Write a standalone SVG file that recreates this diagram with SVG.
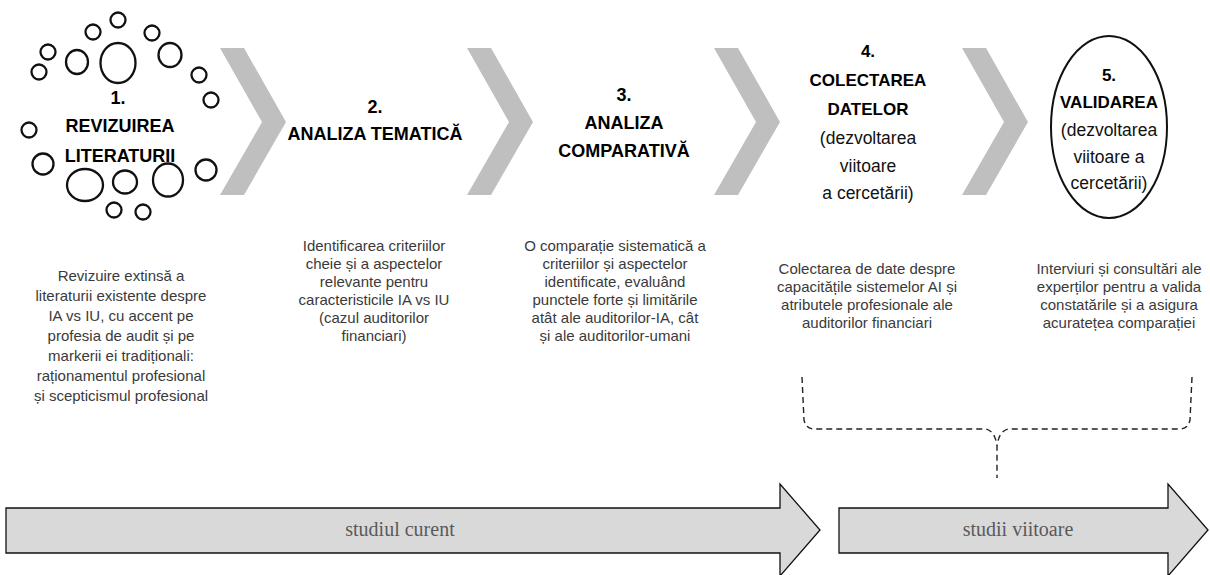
<svg xmlns="http://www.w3.org/2000/svg" width="1210" height="575" viewBox="0 0 1210 575">
<style>
.chev{fill:#bfbfbf;stroke:none}
.ring{fill:#fff;stroke:#111;stroke-width:2.3}
.t{font-family:"Liberation Sans",Arial,sans-serif;font-size:18px;font-weight:bold;fill:#000;text-anchor:middle}
.t2{font-family:"Liberation Sans",Arial,sans-serif;font-size:17px;font-weight:bold;fill:#000;text-anchor:middle}
.r{font-family:"Liberation Sans",Arial,sans-serif;font-size:17.5px;fill:#111;text-anchor:middle}
.d{font-family:"Liberation Sans",Arial,sans-serif;font-size:15px;fill:#3a3a3a;text-anchor:middle}
.arr{fill:#d9d9d9;stroke:#111;stroke-width:1.3}
.at{font-family:"Liberation Serif","Times New Roman",serif;font-size:20px;fill:#595959;text-anchor:middle}
.dash{fill:none;stroke:#222;stroke-width:1.4;stroke-dasharray:6 4}
</style>
<defs>
<polygon id="chevron" points="0,48 24,48 66,122 24,195 0,195 42,122"/>
</defs>
<g id="node1">
<circle class="ring" cx="118" cy="20" r="7.5"/>
<circle class="ring" cx="93" cy="32" r="7.5"/>
<circle class="ring" cx="152" cy="33" r="7.5"/>
<ellipse class="ring" cx="118" cy="63" rx="17.5" ry="20"/>
<circle class="ring" cx="48" cy="52" r="7.5"/>
<ellipse class="ring" cx="77" cy="62" rx="11" ry="12"/>
<ellipse class="ring" cx="170" cy="55" rx="11.5" ry="12"/>
<circle class="ring" cx="39" cy="72" r="7.5"/>
<circle class="ring" cx="199" cy="75" r="7.5"/>
<circle class="ring" cx="211" cy="100" r="7.5"/>
<circle class="ring" cx="29" cy="130" r="7.5"/>
<circle class="ring" cx="43" cy="164" r="10.5"/>
<ellipse class="ring" cx="85" cy="185" rx="18" ry="16"/>
<ellipse class="ring" cx="125" cy="182" rx="12" ry="11.5"/>
<ellipse class="ring" cx="168" cy="180" rx="15" ry="16.5"/>
<circle class="ring" cx="206" cy="170" r="10.5"/>
<circle class="ring" cx="114" cy="210" r="7.5"/>
<circle class="ring" cx="143" cy="212" r="7.5"/>
<text class="t" x="118" y="104">1.</text>
<text class="t" x="120" y="132">REVIZUIREA</text>
<text class="t" x="120" y="162">LITERATURII</text>
<text class="d" x="121" y="281">Revizuire extinsă a</text>
<text class="d" x="121" y="301">literaturii existente despre</text>
<text class="d" x="121" y="321">IA vs IU, cu accent pe</text>
<text class="d" x="121" y="341">profesia de audit și pe</text>
<text class="d" x="121" y="361">markerii ei tradiționali:</text>
<text class="d" x="121" y="381">raționamentul profesional</text>
<text class="d" x="121" y="401">și scepticismul profesional</text>
</g>
<g id="chevron1"><use href="#chevron" class="chev" x="220"/></g>
<g id="node2">
<text class="t" x="375" y="113">2.</text>
<text class="t" x="375" y="140">ANALIZA TEMATICĂ</text>
<text class="d" x="374" y="251">Identificarea criteriilor</text>
<text class="d" x="374" y="269">cheie și a aspectelor</text>
<text class="d" x="374" y="287">relevante pentru</text>
<text class="d" x="374" y="305">caracteristicile IA vs IU</text>
<text class="d" x="374" y="323">(cazul auditorilor</text>
<text class="d" x="374" y="341">financiari)</text>
</g>
<g id="chevron2"><use href="#chevron" class="chev" x="467"/></g>
<g id="node3">
<text class="t" x="624" y="101">3.</text>
<text class="t" x="624" y="129">ANALIZA</text>
<text class="t" x="624" y="157">COMPARATIVĂ</text>
<text class="d" x="615" y="251">O comparație sistematică a</text>
<text class="d" x="615" y="269">criteriilor și aspectelor</text>
<text class="d" x="615" y="287">identificate, evaluând</text>
<text class="d" x="615" y="305">punctele forte și limitările</text>
<text class="d" x="615" y="323">atât ale auditorilor-IA, cât</text>
<text class="d" x="615" y="341">și ale auditorilor-umani</text>
</g>
<g id="chevron3"><use href="#chevron" class="chev" x="714"/></g>
<g id="node4">
<text class="t2" x="868" y="57">4.</text>
<text class="t2" x="868" y="86">COLECTAREA</text>
<text class="t2" x="868" y="115">DATELOR</text>
<text class="r" x="868" y="144">(dezvoltarea</text>
<text class="r" x="868" y="172">viitoare</text>
<text class="r" x="868" y="199">a cercetării)</text>
<text class="d" x="867" y="274">Colectarea de date despre</text>
<text class="d" x="867" y="292">capacitățile sistemelor AI și</text>
<text class="d" x="867" y="310">atributele profesionale ale</text>
<text class="d" x="867" y="328">auditorilor financiari</text>
</g>
<g id="chevron4"><use href="#chevron" class="chev" x="962"/></g>
<g id="node5">
<ellipse cx="1109" cy="127" rx="58" ry="91" fill="#fff" stroke="#111" stroke-width="2"/>
<text class="t2" x="1109" y="81">5.</text>
<text class="t2" x="1109" y="108">VALIDAREA</text>
<text class="r" x="1109" y="136">(dezvoltarea</text>
<text class="r" x="1109" y="163">viitoare a</text>
<text class="r" x="1109" y="189">cercetării)</text>
<text class="d" x="1119" y="274">Interviuri și consultări ale</text>
<text class="d" x="1119" y="292">experților pentru a valida</text>
<text class="d" x="1119" y="310">constatările și a asigura</text>
<text class="d" x="1119" y="328">acuratețea comparației</text>
</g>
<g id="connectors">
<path class="dash" d="M802,377 L804,420 Q806,429 814,429 L986,429 Q995,431 997,446 M1192,377 L1190,420 Q1188,429 1180,429 L1008,429 Q999,431 997,446 L997,478"/>
</g>
<g id="current-study">
<polygon class="arr" points="6,508 780,508 780,484 820,530 780,576 780,553 6,553"/>
<text class="at" x="400" y="536">studiul curent</text>
</g>
<g id="future-studies">
<polygon class="arr" points="839,508 1168,508 1168,484 1208,530 1168,576 1168,553 839,553"/>
<text class="at" x="1018" y="536">studii viitoare</text>
</g>
</svg>
